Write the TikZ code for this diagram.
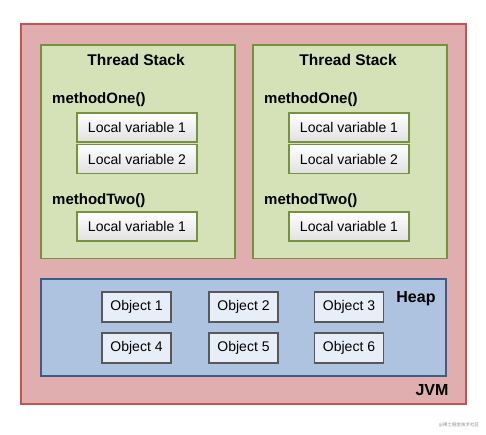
\documentclass[tikz,border=0pt]{standalone}
\usepackage{fontspec}
\setmainfont{Liberation Sans}
\newfontfamily\cjkfont{Noto Sans CJK SC}
\usepackage{tikz}

\definecolor{jvmfill}{RGB}{224,174,174}
\definecolor{jvmline}{RGB}{196,84,80}
\definecolor{stackfill}{RGB}{213,226,184}
\definecolor{stackline}{RGB}{118,146,62}
\definecolor{heapfill}{RGB}{173,195,224}
\definecolor{heapline}{RGB}{58,94,138}
\definecolor{objfill}{RGB}{232,238,247}
\definecolor{objline}{RGB}{88,88,88}

\begin{document}
\begin{tikzpicture}[x=1pt,y=-1pt]

	\tikzstyle jvm box=[draw=jvmline, fill=jvmfill, line width=1.6pt, inner sep=0pt];
	\tikzstyle stack box=[draw=stackline, fill=stackfill, line width=1.6pt, inner sep=0pt];
	\tikzstyle heap box=[draw=heapline, fill=heapfill, line width=1.6pt, inner sep=0pt];
	\tikzstyle var box=[draw=stackline, line width=1.5pt, top color=white, bottom color=black!12, inner sep=0pt, minimum width=120pt, minimum height=29pt, font=\fontsize{14}{16}\selectfont];
	\tikzstyle object box=[draw=objline, fill=objfill, line width=1.5pt, inner sep=0pt, minimum width=69pt, minimum height=30pt, font=\fontsize{14}{16}\selectfont];
	\tikzstyle title label=[inner sep=0pt, font=\fontsize{15.5}{18}\selectfont\bfseries];
	\tikzstyle method label=[inner sep=0pt, anchor=west, font=\fontsize{15}{18}\selectfont\bfseries];
	\tikzstyle big label=[inner sep=0pt, font=\fontsize{16}{19}\selectfont\bfseries];

	\useasboundingbox (0,0) rectangle (486,435);

	\node[jvm box, minimum width=445pt, minimum height=380pt] (jvm) at (243.5,214) {};
	\node[big label] (jvm label) at (432,390) {JVM};

	\foreach \s/\x in {left/40,right/252} {
		\node[stack box, anchor=north west, minimum width=194pt, minimum height=213pt] (\s stack) at (\x,44.5) {};
		\node[title label] (\s title) at (\x+96,59.5) {Thread Stack};
		\node[method label] (\s one) at (\x+12,100) {methodOne()};
		\node[var box] (\s var1) at (\x+97,127.5) {Local variable 1};
		\node[var box] (\s var2) at (\x+97,159) {Local variable 2};
		\node[method label] (\s two) at (\x+12,200.5) {methodTwo()};
		\node[var box] (\s var3) at (\x+97,226.5) {Local variable 1};
	}

	\node[heap box, minimum width=405pt, minimum height=97pt] (heap) at (243.5,327.5) {};
	\node[big label] (heap label) at (416,299) {Heap};
		\foreach \n/\x/\y in {1/136.5/307,2/243.5/307,3/349/307,4/136.5/348,5/243.5/348,6/349/348}
			\node[object box] (obj\n) at (\x,\y) {Object \n};

	\node[inner sep=0pt, text=black!45, font=\cjkfont\fontsize{4.5}{5}\selectfont] (mark) at (459,425) {@稀土掘金技术社区};

\end{tikzpicture}
\end{document}
